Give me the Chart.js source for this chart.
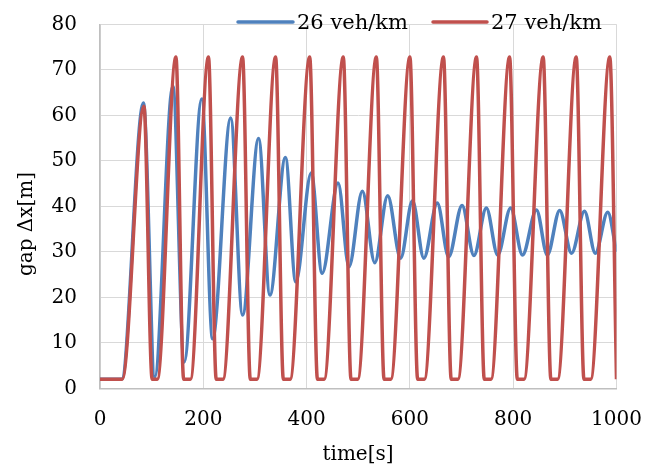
<!DOCTYPE html>
<html lang="en">
<head>
    <meta charset="utf-8" />
    <title>gap</title>
    <style>
        body { margin: 0; background: #fff; }
        .wrap { width: 645px; height: 466px; }
    </style>
</head>
<body>
<div class="wrap">
    <canvas id="mychart1" width="645" height="466"></canvas>
</div>
<script src="https://cdn.jsdelivr.net/npm/chart.js@4.4.1/dist/chart.umd.min.js"></script>
<script>
    // 26 veh/km : time[s] and gap[m] at the turning points
    const timeBlue = [0, 42, 84, 106, 141, 163, 197, 218, 253, 276, 307, 329, 359, 379, 409, 430,
        461, 482, 508, 532, 557, 582, 605, 627, 653, 675, 701, 724, 748, 770, 795, 818,
        845, 866, 890, 913, 938, 959, 983, 1000];
    const gapBlue = [2, 2, 62.7, 2.5, 66.4, 5.8, 63.6, 10.9, 59.4, 16.1, 54.9, 20.5, 50.7, 23.4, 47.3, 25.3,
        45.1, 26.7, 43.3, 27.6, 42.3, 28.6, 41.2, 28.6, 40.7, 28.9, 40.2, 29.2, 39.6, 29.3, 39.6, 29.3,
        39.2, 29.3, 39.1, 29.7, 38.9, 29.7, 38.7, 30.0];

    // 27 veh/km
    const timeRed = [0, 43, 85, 101, 111, 147, 162, 175, 210, 225, 238, 276, 291, 304, 340, 355, 368,
        406, 421, 434, 471, 486, 499, 535, 550, 563, 600, 615, 628, 665, 680, 693, 729, 744, 757,
        793, 808, 821, 858, 873, 886, 922, 937, 950, 987, 1000];
    const gapRed = [2, 2, 62, 2, 2, 72.8, 2, 2, 72.8, 2, 2, 72.8, 2, 2, 72.8, 2, 2,
        72.8, 2, 2, 72.8, 2, 2, 72.8, 2, 2, 72.8, 2, 2, 72.8, 2, 2, 72.8, 2, 2,
        72.8, 2, 2, 72.8, 2, 2, 72.8, 2, 2, 72.8, 2];

    const xTicks = [0, 200, 400, 600, 800, 1000];
    const yTicks = [0, 10, 20, 30, 40, 50, 60, 70, 80];
    const seriesNames = ['26 veh/km', '27 veh/km'];
    const seriesColors = ['#4f81bd', '#c0504d'];

    const FONT = "'DejaVu Serif', serif";

    const toPoints = (t, v) => t.map((x, i) => ({ x: x, y: v[i] }));

    // legend sits on top of the plot, axis titles drawn by hand
    const extras = {
        id: 'extras',
        afterDraw(chart) {
            const ctx = chart.ctx;
            ctx.save();
            ctx.fillStyle = '#000';
            ctx.font = '20px ' + FONT;
            ctx.textAlign = 'center';
            ctx.textBaseline = 'middle';
            ctx.fillText('time[s]', 358, 455);
            ctx.save();
            ctx.translate(27, 224);
            ctx.rotate(-Math.PI / 2);
            ctx.fillText('gap \u0394x[m]', 0, 0);
            ctx.restore();

            const items = [[238, 293, 297], [433, 487, 491]];
            ctx.textAlign = 'left';
            ctx.font = '21px ' + FONT;
            items.forEach((it, i) => {
                ctx.strokeStyle = seriesColors[i];
                ctx.lineWidth = 3.5;
                ctx.lineCap = 'round';
                ctx.beginPath();
                ctx.moveTo(it[0], 22);
                ctx.lineTo(it[1], 22);
                ctx.stroke();
                ctx.fillStyle = '#000';
                ctx.fillText(seriesNames[i], it[2], 24);
            });
            ctx.restore();
        }
    };

    new Chart(document.getElementById('mychart1'), {
        type: 'line',
        data: {
            datasets: [{
                label: seriesNames[0],
                data: toPoints(timeBlue, gapBlue),
                borderColor: seriesColors[0],
                borderWidth: 3.5,
                pointRadius: 0,
                cubicInterpolationMode: 'monotone',
                order: 1,
            }, {
                label: seriesNames[1],
                data: toPoints(timeRed, gapRed),
                borderColor: seriesColors[1],
                borderWidth: 3.5,
                pointRadius: 0,
                cubicInterpolationMode: 'monotone',
                order: 0,
            }],
        },
        options: {
            responsive: false,
            animation: false,
            layout: { padding: { left: 0, right: 28.5, top: 24.3, bottom: 0 } },
            plugins: {
                legend: { display: false },
                tooltip: { enabled: false },
            },
            scales: {
                x: {
                    type: 'linear',
                    min: 0,
                    max: 1000,
                    afterBuildTicks: (s) => { s.ticks = xTicks.map(v => ({ value: v })); },
                    afterFit: (s) => {
                        s.height = 77.7;
                        s.paddingLeft = 0;
                        s.paddingRight = 0;
                    },
                    grid: { color: '#d9d9d9', drawTicks: false },
                    border: { color: '#bfbfbf', width: 1.5 },
                    ticks: {
                        color: '#000', font: { family: FONT, size: 20 }, padding: 19, maxRotation: 0,
                        callback: (v) => String(v),
                    },
                },
                y: {
                    min: 0,
                    max: 80,
                    afterBuildTicks: (s) => { s.ticks = yTicks.map(v => ({ value: v })); },
                    afterFit: (s) => {
                        s.width = 100;
                        s.paddingTop = 0;
                        s.paddingBottom = 0;
                    },
                    grid: { color: '#d9d9d9', drawTicks: false },
                    border: { color: '#bfbfbf', width: 1.5 },
                    ticks: { color: '#000', font: { family: FONT, size: 20 }, padding: 23 },
                },
            },
        },
        plugins: [extras],
    });
</script>
</body>
</html>
